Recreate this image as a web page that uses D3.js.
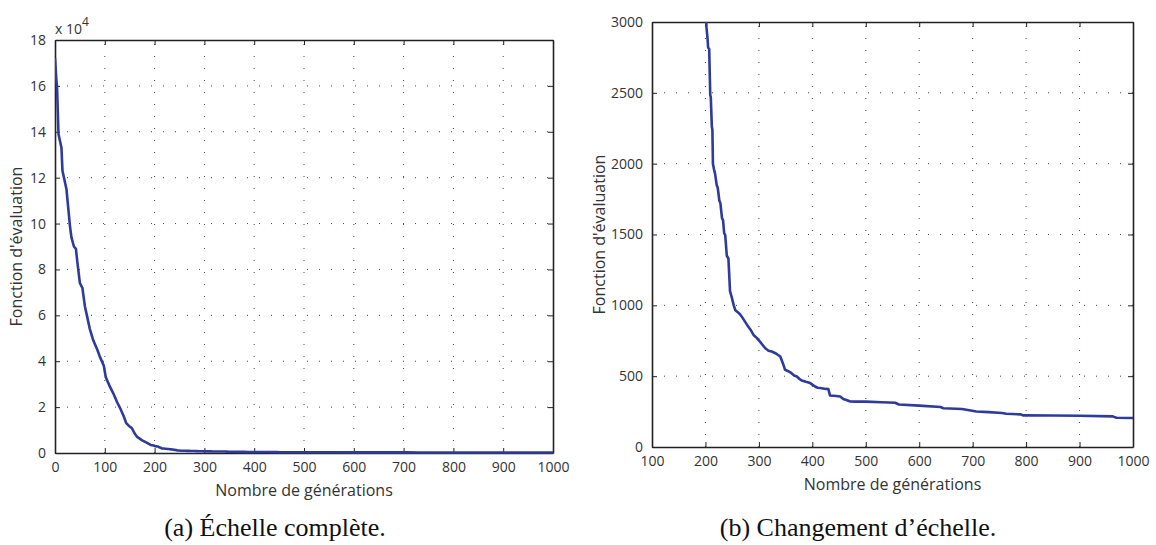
<!DOCTYPE html>
<html>
<head>
<meta charset="utf-8">
<script src="https://cdn.jsdelivr.net/npm/d3@7"></script>
<style>
  html, body { margin: 0; padding: 0; background: #fff; }
  svg { display: block; }
  .tick text { font-family: "Open Sans", sans-serif; font-size: 14px; fill: #333; }
  .axis-title { font-family: "Open Sans", sans-serif; font-size: 16px; fill: #333; }
  .caption { font-family: "Liberation Serif", "Times New Roman", serif; font-size: 26px; fill: #111; }
</style>
</head>
<body>
<svg id="fig" width="1156" height="545"></svg>
<script>
// Best fitness value per generation (one run of the genetic algorithm)
const generations = [
  0, 3, 4, 7, 12, 13, 15, 21, 23, 30, 33, 38, 42, 45, 50, 55, 60, 65, 70, 77,
  85, 90, 98, 102, 110, 117, 125, 132, 138, 143, 150, 154, 160, 165, 175, 184,
  192, 198, 202, 204, 205, 207, 209, 210, 212, 213, 214, 216, 218, 221, 223, 226,
  228, 231, 233, 235, 237, 240, 243, 246, 249, 253, 256, 261, 265, 268, 274, 280,
  284, 290, 296, 302, 307, 312, 318, 324, 332, 340, 345, 349, 355, 361, 366, 371,
  376, 380, 388, 396, 400, 405, 410, 415, 425, 430, 433, 445, 452, 458, 465, 471,
  480, 500, 530, 555, 562, 600, 640, 645, 680, 707, 730, 755, 763, 790, 794, 850,
  900, 962, 969, 1000
];
const fitness = [
  172000, 162000, 160000, 139000, 134000, 133000, 123000, 117000, 115000, 99000,
  94000, 90000, 89000, 83000, 74000, 72000, 64000, 59000, 54000, 49000,
  45000, 42000, 38000, 33000, 29000, 26000, 22000, 19000, 16000, 13000,
  11500, 11000, 8500, 7000, 5500, 4500, 3500, 3300, 2960, 2880,
  2820, 2810, 2485, 2470, 2260, 2240, 2000, 1960, 1930, 1850,
  1830, 1740, 1720, 1615, 1600, 1510, 1495, 1350, 1330, 1100,
  1060, 1000, 965, 950, 935, 920, 885, 850, 830, 791,
  770, 744, 720, 697, 680, 674, 660, 639, 590, 545,
  535, 521, 505, 498, 480, 470, 460, 451, 440, 427,
  418, 416, 410, 409, 364, 360, 357, 338, 330, 321,
  320, 320, 316, 312, 300, 292, 282, 274, 268, 251,
  246, 240, 235, 230, 223, 222, 221, 216, 206, 205
];

// Tick values of the two panels
const ticksXFull = [0, 100, 200, 300, 400, 500, 600, 700, 800, 900, 1000];
const ticksYFull = [0, 2, 4, 6, 8, 10, 12, 14, 16, 18];        // in units of 10^4
const ticksXZoom = [100, 200, 300, 400, 500, 600, 700, 800, 900, 1000];
const ticksYZoom = [0, 500, 1000, 1500, 2000, 2500, 3000];

const captions = ["(a) Échelle complète.", "(b) Changement d\u2019échelle."];
const xTitle = "Nombre de générations";
const yTitle = "Fonction d'évaluation";

const series = generations.map((g, i) => ({ g, v: fitness[i] }));
const svg = d3.select("#fig");
const lineColor = "#2f3b9b";

function panel(opts) {
  const { left, top, right, bottom, xDomain, yDomain, xTicks, yTicks, yFormat, yScaleFactor, id } = opts;
  const x = d3.scaleLinear().domain(xDomain).range([left, right]);
  const y = d3.scaleLinear().domain(yDomain).range([bottom, top]);
  const g = svg.append("g");

  // dotted grid
  g.append("g").selectAll("line").data(xTicks.slice(1, -1)).join("line")
    .attr("x1", d => x(d)).attr("x2", d => x(d)).attr("y1", bottom).attr("y2", top)
    .attr("stroke", "#444").attr("stroke-width", 1).attr("stroke-dasharray", "1,11");
  g.append("g").selectAll("line").data(yTicks.slice(1, -1)).join("line")
    .attr("y1", d => y(d * yScaleFactor)).attr("y2", d => y(d * yScaleFactor))
    .attr("x1", left).attr("x2", right)
    .attr("stroke", "#444").attr("stroke-width", 1).attr("stroke-dasharray", "1,11");

  // axes with inward ticks
  const xb = d3.axisBottom(x).tickValues(xTicks).tickSizeInner(-5).tickSizeOuter(0).tickPadding(9)
    .tickFormat(d => String(d));
  const xt = d3.axisTop(x).tickValues(xTicks).tickSizeInner(-5).tickSizeOuter(0).tickFormat("");
  const yl = d3.axisLeft(y).tickValues(yTicks.map(d => d * yScaleFactor)).tickSizeInner(-5).tickSizeOuter(0)
    .tickPadding(9).tickFormat(yFormat);
  const yr = d3.axisRight(y).tickValues(yTicks.map(d => d * yScaleFactor)).tickSizeInner(-5).tickSizeOuter(0).tickFormat("");

  [[xb, `translate(0,${bottom})`], [xt, `translate(0,${top})`],
   [yl, `translate(${left},0)`], [yr, `translate(${right},0)`]].forEach(([ax, tr]) => {
    const a = g.append("g").attr("transform", tr).call(ax);
    a.select(".domain").attr("stroke", "#222").attr("stroke-width", 1.6);
    a.selectAll(".tick line").attr("stroke", "#222").attr("stroke-width", 1);
  });

  // data line
  const clipId = "clip-" + id;
  svg.append("clipPath").attr("id", clipId).append("rect")
    .attr("x", left).attr("y", top).attr("width", right - left).attr("height", bottom - top + 2);
  g.append("path").datum(series)
    .attr("clip-path", `url(#${clipId})`)
    .attr("fill", "none").attr("stroke", lineColor).attr("stroke-width", 2.6)
    .attr("stroke-linejoin", "round")
    .attr("d", d3.line().x(d => x(d.g)).y(d => y(d.v)));

  // titles
  g.append("text").attr("class", "axis-title").attr("text-anchor", "middle")
    .attr("x", (left + right) / 2).attr("y", bottom + 43).text(xTitle);
  g.append("text").attr("class", "axis-title").attr("text-anchor", "middle")
    .attr("transform", `translate(${opts.yTitleX},${(top + bottom) / 2}) rotate(-90)`).text(yTitle);
  g.append("text").attr("class", "caption").attr("text-anchor", "middle")
    .attr("x", opts.captionX).attr("y", 536).text(opts.caption);
  return { x, y, g };
}

const a = panel({
  id: "a", left: 55, top: 40, right: 553, bottom: 453,
  xDomain: [0, 1000], yDomain: [0, 180000],
  xTicks: ticksXFull, yTicks: ticksYFull, yScaleFactor: 10000,
  yFormat: d => String(d / 10000), yTitleX: 22, captionX: 275, caption: captions[0]
});
// exponent annotation of the left panel
const ex = a.g.append("text").attr("x", 55).attr("y", 34)
  .attr("font-family", "Open Sans, sans-serif").attr("font-size", 14).attr("fill", "#333");
ex.append("tspan").text("x 10");
ex.append("tspan").attr("dy", -8).attr("font-size", 12).text("4");

panel({
  id: "b", left: 652, top: 22, right: 1133, bottom: 447,
  xDomain: [100, 1000], yDomain: [0, 3000],
  xTicks: ticksXZoom, yTicks: ticksYZoom, yScaleFactor: 1,
  yFormat: d => String(d), yTitleX: 605, captionX: 858, caption: captions[1]
});
</script>
</body>
</html>
